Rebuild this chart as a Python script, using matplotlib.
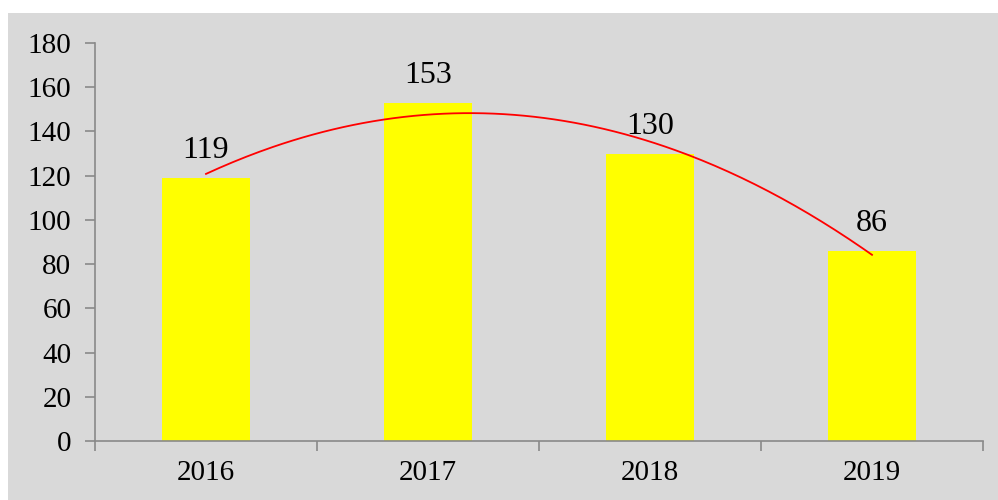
import numpy as np
import matplotlib
matplotlib.use("Agg")
import matplotlib.pyplot as plt
from matplotlib.patches import Rectangle

years = ["2016", "2017", "2018", "2019"]
values = [119, 153, 130, 86]

plt.rcParams["font.family"] = ["Liberation Serif", "DejaVu Serif"]

fig = plt.figure(figsize=(9.98, 5.0), dpi=100)
fig.patches.append(Rectangle((8 / 998, 0), 990 / 998, 487 / 500,
                             transform=fig.transFigure, facecolor="#d9d9d9",
                             edgecolor="none", zorder=-10))
ax = fig.add_axes([95 / 998, 59 / 500, 888 / 998, 398 / 500])
ax.set_facecolor("#d9d9d9")

x = np.arange(len(years))
ax.bar(x, values, width=0.4, color="#ffff00", zorder=2)
for xi, v in zip(x, values):
    ax.annotate(str(v), (xi, v), xytext=(0, 9), textcoords="offset points",
                ha="center", va="bottom", fontsize=23, zorder=4)

# polynomial trendline (order 2)
coef = np.polyfit(x, values, 2)
xs = np.linspace(x[0], x[-1], 200)
ax.plot(xs, np.polyval(coef, xs), color="#ff0000", lw=1.3, zorder=3)

ax.set_xlim(-0.5, len(years) - 0.5)
ax.set_ylim(0, 180)
ax.set_yticks(range(0, 181, 20))
ax.set_xticks(x)
ax.set_xticklabels(years)
ax.set_xticks(np.arange(-0.5, len(years), 1), minor=True)
ax.tick_params(axis="x", which="major", length=0, pad=14, labelsize=21)
ax.tick_params(axis="x", which="minor", length=7, color="#898989", width=1.2)
ax.tick_params(axis="y", length=7, color="#898989", width=1.2, pad=10, labelsize=21)
for s in ["top", "right"]:
    ax.spines[s].set_visible(False)
for s in ["left", "bottom"]:
    ax.spines[s].set_color("#898989")
    ax.spines[s].set_linewidth(1.2)

fig.savefig("out.png", dpi=100)
